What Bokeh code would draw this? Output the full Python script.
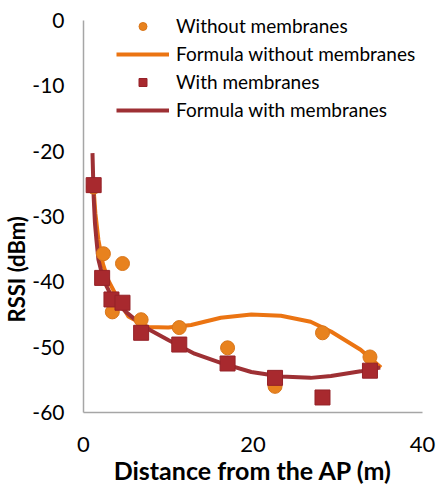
from bokeh.plotting import figure
from bokeh.models import Range1d, FixedTicker, Legend, LegendItem, Title
from bokeh.embed import file_html
from bokeh.resources import INLINE

# measured points
dist_without = [1.2, 2.35, 3.4, 4.6, 6.8, 11.3, 17.0, 22.6, 28.2, 33.8]
rssi_without = [-25.5, -35.7, -44.6, -37.2, -45.8, -47.0, -50.1, -56.0, -47.8, -51.5]

dist_with = [1.2, 2.2, 3.3, 4.6, 6.8, 11.3, 17.0, 22.6, 28.2, 33.8]
rssi_with = [-25.2, -39.4, -42.7, -43.2, -47.8, -49.6, -52.5, -54.7, -57.7, -53.6]

# formula (trend) curves
fx_without = [1.1, 1.4, 1.76, 2.3, 2.9, 4.1, 5.3, 7.6, 10.0, 12.7, 16.2, 19.8, 23.3, 26.8, 29.2, 32.7, 35.1]
fy_without = [-24.0, -29.5, -33.6, -37.3, -39.7, -42.7, -45.3, -46.9, -47.0, -46.6, -45.5, -45.0, -45.2, -46.1, -47.6, -50.4, -53.1]

fx_with = [1.06, 1.2, 1.35, 1.53, 1.76, 2.35, 3.5, 5.0, 6.5, 8.0, 10.0, 13.1, 16.2, 19.8, 23.3, 26.8, 29.2, 32.7, 35.0]
fy_with = [-20.3, -27.0, -31.0, -33.6, -36.6, -39.7, -42.7, -44.6, -46.2, -47.5, -48.9, -51.0, -52.4, -53.8, -54.5, -54.7, -54.4, -53.7, -53.1]

x_ticks = [0, 20, 40]
y_ticks = [-60, -50, -40, -30, -20, -10, 0]

ORANGE_PT = "#E8821E"
ORANGE_LN = "#EB7412"
RED_PT = "#A8292E"
RED_LN = "#9E3034"
FONT = "Lato"

# frame spans 10..413 px vertically; a little headroom above 0 for the legend
Y_TOP = 60 * 10 / 393

p = figure(width=437, height=487, output_backend="svg", toolbar_location=None,
           x_range=Range1d(0, 40), y_range=Range1d(-60, Y_TOP),
           min_border_left=82, min_border_right=15, min_border_top=10, min_border_bottom=74)
p.outline_line_color = None
p.xgrid.visible = False
p.ygrid.visible = False

for ax in (p.xaxis[0], p.yaxis[0]):
    ax.axis_line_color = "#A6A6A6"
    ax.axis_line_width = 1.5
    ax.major_tick_line_color = None
    ax.minor_tick_line_color = None
    ax.major_label_text_font = FONT
    ax.major_label_text_color = "#000000"

p.xaxis.major_label_text_font_size = "22px"
p.yaxis.major_label_text_font_size = "21px"
p.yaxis.bounds = (-60, 0)
p.xaxis.ticker = FixedTicker(ticks=x_ticks)
p.yaxis.ticker = FixedTicker(ticks=y_ticks)
p.xaxis.major_label_overrides = {t: str(t) for t in x_ticks}
p.yaxis.major_label_overrides = {t: str(t) for t in y_ticks}
p.xaxis.major_label_standoff = 18
p.yaxis.major_label_standoff = 13

p.xaxis.axis_label = "Distance from the AP (m)"
p.xaxis.axis_label_text_font = FONT
p.xaxis.axis_label_text_font_style = "bold"
p.xaxis.axis_label_text_font_size = "25px"
p.xaxis.axis_label_standoff = 0
p.xaxis.axis_label_text_color = "#000000"

ytitle = Title(text="RSSI (dBm)", align="left", offset=90, standoff=0,
               text_font=FONT, text_font_style="bold", text_font_size="22px",
               text_color="#000000")
p.add_layout(ytitle, "left")

l1 = p.line(fx_without, fy_without, line_color=ORANGE_LN, line_width=4)
l2 = p.line(fx_with, fy_with, line_color=RED_LN, line_width=4)
s1 = p.scatter(dist_without, rssi_without, marker="circle", size=14,
               fill_color=ORANGE_PT, line_color="#D9761A", line_width=1)
s2 = p.scatter(dist_with, rssi_with, marker="square", size=15,
               fill_color=RED_PT, line_color="#952228", line_width=1)

legend = Legend(items=[
    LegendItem(label="Without membranes", renderers=[s1]),
    LegendItem(label="Formula without membranes", renderers=[l1]),
    LegendItem(label="With membranes", renderers=[s2]),
    LegendItem(label="Formula with membranes", renderers=[l2]),
], location=(33, 291))
legend.border_line_color = None
legend.background_fill_alpha = 0
legend.padding = 0
legend.margin = 0
legend.spacing = 5
legend.glyph_width = 53
legend.glyph_height = 20
legend.label_height = 20
legend.label_standoff = 7
legend.label_text_font = FONT
legend.label_text_font_size = "19px"
legend.label_text_color = "#000000"
legend.label_text_baseline = "middle"
p.add_layout(legend, "center")

open("out.html", "w").write(file_html(p, INLINE))
